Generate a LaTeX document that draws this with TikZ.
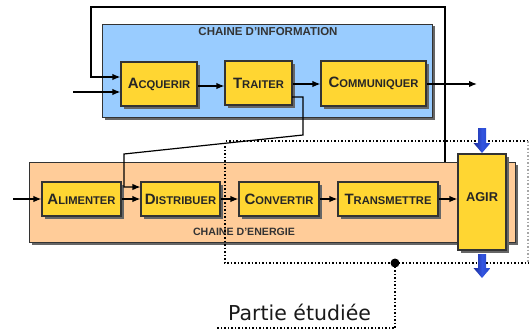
\documentclass[tikz,border=0pt]{standalone}
\usepackage{fontspec}
\setmainfont{Liberation Sans}
\newfontfamily\dejavu{DejaVu Sans}
\usetikzlibrary{arrows.meta,shadows}
\definecolor{infoblue}{HTML}{99CCFF}
\definecolor{enerpeach}{HTML}{FFCC99}
\definecolor{boxyellow}{HTML}{FFD632}
\definecolor{edgegray}{HTML}{333333}
\definecolor{titlegray}{HTML}{333333}
\definecolor{arrdark}{HTML}{1A2A9A}
\definecolor{arrmid}{HTML}{3355E0}
\definecolor{arrlight}{HTML}{2244C8}
\newcommand\scLab[2]{{\fontsize{15}{15}\selectfont #1}{\fontsize{11.2}{11.2}\selectfont #2}}
\tikzset{
  shadowed/.style={drop shadow={shadow xshift=2.5pt,shadow yshift=-2.5pt,fill=black!60,opacity=1}},
  chainbox/.style={draw=edgegray,line width=0.9pt,shadowed,inner sep=0pt},
  funcbox/.style={draw=edgegray,line width=1.1pt,fill=boxyellow,shadowed,inner sep=0pt,
    font=\bfseries,text=black!85},
  flow/.style={line width=1.4pt,-{Latex[length=8pt,width=6.5pt]}},
  studied/.style={line width=1.5pt,dotted},
  bluearrow/.style={left color=arrdark,right color=arrlight,middle color=arrmid,draw=none}
}
\begin{document}
\begin{tikzpicture}[x=1pt,y=-1pt]
\useasboundingbox (0,0) rectangle (529,329);
% chains
\node[chainbox,fill=infoblue,minimum width=330pt,minimum height=93pt] (info) at (267,70.5) {};
\node[font=\bfseries\fontsize{11.5}{12}\selectfont,text=titlegray] (infotitle) at (268,32) {CHAINE D’INFORMATION};
\node[chainbox,fill=enerpeach,minimum width=486pt,minimum height=80pt] (ener) at (272,202) {};
\node[font=\bfseries\fontsize{10.6}{11}\selectfont,text=titlegray] (enertitle) at (244,232) {CHAINE D’ENERGIE};
% information boxes
\node[funcbox,minimum width=76pt,minimum height=44pt] (acq) at (159,84) {\scLab{A}{CQUERIR}};
\node[funcbox,minimum width=67pt,minimum height=44pt] (trait) at (258.5,83) {\scLab{T}{RAITER}};
\node[funcbox,minimum width=105pt,minimum height=45pt] (comm) at (373.5,83.5) {\scLab{C}{OMMUNIQUER}};
% energy boxes
\node[funcbox,minimum width=79pt,minimum height=34pt] (alim) at (81.5,199) {\scLab{A}{LIMENTER}};
\node[funcbox,minimum width=79pt,minimum height=34pt] (distr) at (180.5,199) {\scLab{D}{ISTRIBUER}};
\node[funcbox,minimum width=80pt,minimum height=34pt] (conv) at (279,199) {\scLab{C}{ONVERTIR}};
\node[funcbox,minimum width=100pt,minimum height=34pt] (trans) at (388,199) {\scLab{T}{RANSMETTRE}};
\node[funcbox,minimum width=48pt,minimum height=96pt] (agir) at (482,202) {};
\node[font=\bfseries\fontsize{12.8}{13}\selectfont,text=black!85] (agirlabel) at (482,197) {AGIR};
% coordinates
\coordinate (inA) at (73,92);
\coordinate (inE) at (13,199);
\coordinate (outC) at (477,84);
\coordinate (loopx) at (445,0);
\coordinate (loopTR) at (445,7);
\coordinate (loopTL) at (91,7);
\coordinate (loopL) at (91,77);
\coordinate (fbA) at (292,97);
\coordinate (fbB) at (303,97);
\coordinate (fbC) at (303,135);
\coordinate (fbD) at (124,154);
\coordinate (fbE) at (124,187);
% information arrows
\draw[flow] (inA) -- (inA -| acq.west);
\draw[flow] (ener.north -| loopx) -- (loopTR) -- (loopTL) -- (loopL) -- (loopL -| acq.west);
\draw[flow] (acq.east |- 0,86) -- (trait.west |- 0,86);
\draw[flow] (trait.east |- 0,84) -- (comm.west |- 0,84);
\draw[flow] (comm.east |- outC) -- (outC);
\draw[flow,line width=1.2pt] (fbA) -- (fbB) -- (fbC) -- (fbD) -- (fbE) -- (fbE -| distr.west);
% energy arrows
\draw[flow] (inE) -- (alim.west);
\draw[flow] (alim.east) -- (distr.west);
\draw[flow] (distr.east) -- (conv.west);
\draw[flow] (conv.east) -- (trans.west);
\draw[flow] (trans.east) -- (trans.east -| agir.west);
% studied part
\coordinate (sTR) at (528,141);
\coordinate (sTL) at (225,141);
\coordinate (sBL) at (225,263);
\coordinate (sBR) at (529,263);
\coordinate (sDot) at (395,263);
\coordinate (sLow) at (395,328);
\coordinate (sLowL) at (217,328);
\draw[studied] (sTR) -- (sTL) -- (sBL) -- (sBR);
\draw[studied,black!35] (sTR) -- (sTR |- sBR);
\draw[studied] (sDot) -- (sLow) -- (sLowL);
\fill (sDot) circle (4.5pt);
\node[anchor=base west,inner sep=0pt,font=\dejavu\fontsize{20.5}{21}\selectfont,text=black!90] (partie) at (228,320) {Partie étudiée};
% blue arrows (actuator in/out)
\shade[bluearrow] (478,128) -- (486,128) -- (486,143) -- (490.5,143) -- (482,153) -- (473.5,143) -- (478,143) -- cycle;
\shade[bluearrow] (478,254) -- (486,254) -- (486,268) -- (490.5,268) -- (482,278) -- (473.5,268) -- (478,268) -- cycle;
\end{tikzpicture}
\end{document}
